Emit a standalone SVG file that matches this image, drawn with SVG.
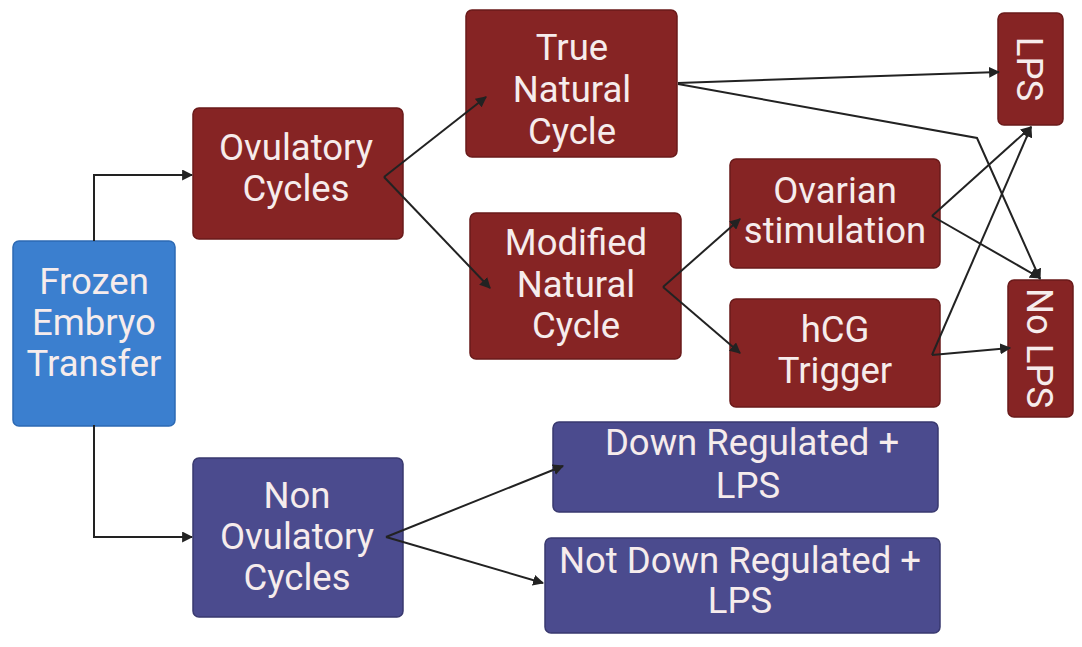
<svg xmlns="http://www.w3.org/2000/svg" width="1082" height="647" viewBox="0 0 1082 647">
<defs>
<marker id="ah" viewBox="0 0 10 10" refX="9" refY="5" markerWidth="5.5" markerHeight="5.5" orient="auto" markerUnits="strokeWidth">
<path d="M0,0 L10,5 L0,10 z" fill="#222"/>
</marker>
<style>
.red{fill:#862424;stroke:#6a1a1a;stroke-width:1.5}
.blue{fill:#3b7fcf;stroke:#2d6ab4;stroke-width:1.5}
.pur{fill:#4b4b8e;stroke:#39396f;stroke-width:1.5}
text{font-family:Roboto,"Liberation Sans",sans-serif;font-size:36.5px;fill:#f6ecec;text-anchor:middle}
.c{fill:none;stroke:#222;stroke-width:2}
.a{marker-end:url(#ah)}
</style>
</defs>
<rect width="1082" height="647" fill="#fff"/>
<g id="frozen"><rect class="blue" x="13" y="241" width="162" height="185" rx="6"/>
<text x="94" y="294">Frozen</text><text x="94" y="335">Embryo</text><text x="94" y="376">Transfer</text></g>
<g id="ovulatory"><rect class="red" x="193" y="108" width="210" height="131" rx="6"/>
<text x="296" y="160">Ovulatory</text><text x="296" y="201">Cycles</text></g>
<g id="true-natural"><rect class="red" x="466" y="10" width="211" height="147" rx="6"/>
<text x="572" y="60">True</text><text x="572" y="102">Natural</text><text x="572" y="144">Cycle</text></g>
<g id="modified"><rect class="red" x="470" y="213" width="211" height="146" rx="6"/>
<text x="576" y="255">Modified</text><text x="576" y="297">Natural</text><text x="576" y="338">Cycle</text></g>
<g id="ovarian"><rect class="red" x="730" y="159" width="210" height="109" rx="6"/>
<text x="835" y="203">Ovarian</text><text x="835" y="243">stimulation</text></g>
<g id="hcg"><rect class="red" x="730" y="299" width="210" height="108" rx="6"/>
<text x="835" y="342">hCG</text><text x="835" y="383">Trigger</text></g>
<g id="lps"><rect class="red" x="998" y="13" width="65" height="112" rx="6"/>
<text transform="translate(1030,69) rotate(90)" y="13">LPS</text></g>
<g id="no-lps"><rect class="red" x="1008" y="280" width="65" height="137" rx="6"/>
<text transform="translate(1040,348) rotate(90)" y="13">No LPS</text></g>
<g id="non-ovulatory"><rect class="pur" x="193" y="458" width="210" height="159" rx="6"/>
<text x="297" y="508">Non</text><text x="297" y="549">Ovulatory</text><text x="297" y="590">Cycles</text></g>
<g id="down-reg"><rect class="pur" x="553" y="422" width="385" height="90" rx="6"/>
<text x="752" y="455">Down Regulated +</text><text x="748" y="498">LPS</text></g>
<g id="not-down-reg"><rect class="pur" x="545" y="538" width="395" height="95" rx="6"/>
<text x="740" y="573">Not Down Regulated +</text><text x="740" y="613">LPS</text></g>
<g id="connectors">
<path class="c a" d="M94,241 V175 H192"/>
<path class="c a" d="M94,425 V537 H192"/>
<path class="c a" d="M384,177 L486,97"/>
<path class="c a" d="M384,177 L490,288"/>
<path class="c a" d="M678,83 L999,72"/>
<path class="c a" d="M678,84 L977,138 L1040,279"/>
<path class="c a" d="M663,287 L740,219"/>
<path class="c a" d="M663,287 L740,353"/>
<path class="c a" d="M932,216 L1031,127"/>
<path class="c a" d="M932,216 L1040,278"/>
<path class="c a" d="M932,355 L1031,127"/>
<path class="c a" d="M932,355 L1010,348"/>
<path class="c a" d="M386,537 L563,466"/>
<path class="c a" d="M386,537 L543,583"/>
</g>
</svg>
